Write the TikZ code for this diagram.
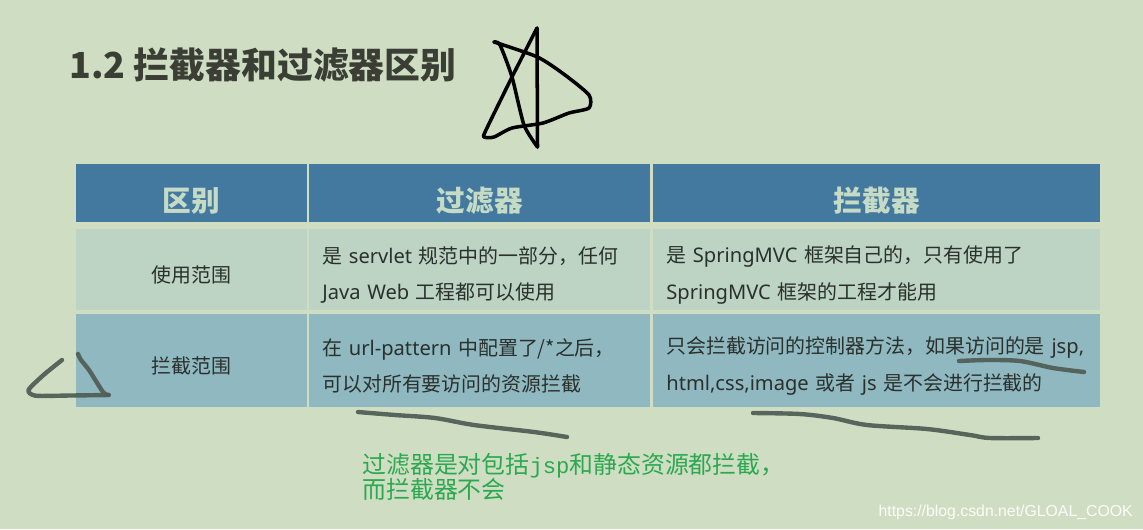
\documentclass[tikz,border=0pt]{standalone}
\usepackage{fontspec}
\setmainfont{Noto Sans CJK SC}
\newfontfamily\wmfont{Liberation Sans}
\newfontfamily\jspfont{Liberation Mono}
\newfontfamily\latfont[Scale=1.01]{Noto Sans}
\newcommand{\lat}[1]{{\latfont #1}}
\definecolor{pagebg}{HTML}{CFDEC3}
\definecolor{headblue}{HTML}{44799F}
\definecolor{rowpale}{HTML}{BDD3C3}
\definecolor{rowteal}{HTML}{8FB8C0}
\definecolor{headtext}{HTML}{C6DBC6}
\definecolor{bodytext}{HTML}{2A302C}
\definecolor{titletext}{HTML}{3A3E35}
\definecolor{notegreen}{HTML}{2BA850}
\definecolor{penmark}{HTML}{525F58}
\newcommand{\bodysize}{\fontsize{11.34pt}{20.6pt}\selectfont}
\tikzset{
    cell/.style={anchor=north west, inner xsep=0pt, inner ysep=0pt, text=bodytext, font=\bodysize,
        execute at begin node={\rule{0pt}{15.5pt}}},
    headcell/.style={cell, fill=headblue, text=headtext, font=\fontsize{16.3pt}{20pt}\selectfont\bfseries, align=center,
        execute at begin node={\rule{0pt}{22pt}}},
    penstroke/.style={penmark, line width=2.5pt, line cap=round, line join=round, opacity=.95},
    starstroke/.style={black, line width=2pt, line cap=round, line join=round}
}
\begin{document}
\begin{tikzpicture}[x=.02cm, y=-.02cm]
    \fill[pagebg] (0,0) rectangle (1143,529);
    \node[anchor=base west, inner sep=0pt, text=titletext, font=\fontsize{20.4pt}{24pt}\selectfont\bfseries] (title) at (69,78) {1.2 拦截器和过滤器区别};
    % header row
    \node[headcell, minimum width=4.61cm, minimum height=1.16cm] (headdiff) at (76,164) {区别};
    \node[headcell, minimum width=6.82cm, minimum height=1.16cm] (headfilter) at (309,164) {过滤器};
    \node[headcell, minimum width=8.94cm, minimum height=1.16cm] (headinter) at (653,164) {拦截器};
    % first row
    \node[cell, fill=rowpale, minimum width=4.61cm, minimum height=1.62cm, align=center] (scopeuse) at (76,229) {使用范围};
    \node[cell, fill=rowpale, minimum width=6.82cm, minimum height=1.62cm, inner xsep=.26cm, text width=6.3cm, align=left] (filteruse) at (309,229) {是 \lat{servlet} 规范中的一部分，任何\\\lat{Java Web} 工程都可以使用};
    \node[cell, fill=rowpale, minimum width=8.94cm, minimum height=1.62cm, inner xsep=.26cm, text width=8.42cm, align=left] (interuse) at (653,229) {是 \lat{SpringMVC} 框架自己的，只有使用了\\\lat{SpringMVC} 框架的工程才能用};
    % second row
    \node[cell, fill=rowteal, minimum width=4.61cm, minimum height=1.86cm, align=center] (scopeblock) at (76,314) {拦截范围};
    \node[cell, fill=rowteal, minimum width=6.82cm, minimum height=1.86cm, inner xsep=.26cm, text width=6.3cm, align=left] (filterblock) at (309,314) {在 \lat{url-pattern} 中配置了/*之后，\\可以对所有要访问的资源拦截};
    \node[cell, fill=rowteal, minimum width=8.94cm, minimum height=1.86cm, inner xsep=.26cm, text width=8.42cm, align=left] (interblock) at (653,314) {只会拦截访问的控制器方法，如果访问的是 \lat{jsp,}\\\lat{html,css,image} 或者 \lat{js} 是不会进行拦截的};
    % note and watermark
    \node[anchor=north west, inner sep=0pt, align=left, text=notegreen, font=\fontsize{13.6pt}{14.2pt}\selectfont] (note) at (362,453) {过滤器是对包括{\jspfont\fontsize{12.6pt}{14.2pt}\selectfont jsp}和静态资源都拦截，\\而拦截器不会};
    \node[anchor=base east, inner sep=0pt, text=white!90!pagebg, font=\wmfont\fontsize{9pt}{11pt}\selectfont] (mark) at (1133,516) {https://blog.csdn.net/GLOAL\_COOK};
    % pen marks
    \draw[starstroke] (537,28) -- (537.5,147);
    \draw[starstroke] plot[smooth, tension=.4] coordinates {(494,42) (500,45) (512,77) (524,125) (537.5,147)};
    \draw[starstroke] plot[smooth, tension=.4] coordinates {(537,28) (512,77) (486,130) (484,137) (494,137) (512,128) (543,123) (569,113) (589,108) (589,95) (565,75) (537.5,57) (494,42)};
    \draw[penstroke] plot[smooth, tension=.4] coordinates {(62,360) (43.5,375) (28.5,390) (35.6,395.7) (70,395.5) (108.7,395)};
    \draw[penstroke] plot[smooth, tension=.4] coordinates {(108.7,395) (103,392) (89,370) (81,360) (78,354)};
    \draw[penstroke] plot[smooth] coordinates {(358,412) (395,415) (435,418) (474,425) (534,432) (567,437)};
    \draw[penstroke] plot[smooth] coordinates {(753,413) (800,414) (833,418) (867,425) (927,429) (970,435) (990,438) (1038,438)};
    \draw[penstroke] plot[smooth] coordinates {(959,361) (987,360) (1020,361) (1053,368) (1084,372)};
\end{tikzpicture}
\end{document}
